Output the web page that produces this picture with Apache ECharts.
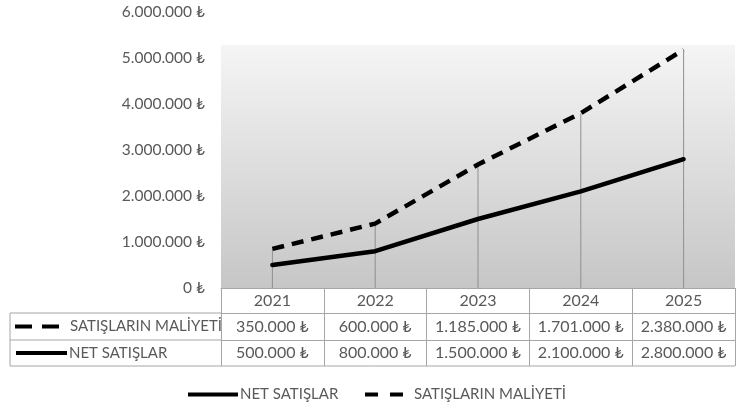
<!DOCTYPE html>
<html>
<head>
<meta charset="utf-8">
<script src="https://cdn.jsdelivr.net/npm/echarts@6/dist/echarts.min.js"></script>
<style>
html,body{margin:0;padding:0;background:#fff;}
#c{width:745px;height:403px;}
</style>
</head>
<body>
<div id="c"></div>
<script>
const years = ['2021', '2022', '2023', '2024', '2025'];
const netSales = [500000, 800000, 1500000, 2100000, 2800000];
const costOfSales = [350000, 600000, 1185000, 1701000, 2380000];
const yTicks = [0, 1000000, 2000000, 3000000, 4000000, 5000000, 6000000];
const NET = 'NET SATIŞLAR';
const COST = 'SATIŞLARIN MALİYETİ';

const FONT = 'Lato, "DejaVu Sans", sans-serif';
const TXT = '#595959';
const BORDER = '#a6a6a6';

function fmt(v) {
  return String(v).replace(/\B(?=(\d{3})+(?!\d))/g, '.') + ' ₺';
}
const totals = netSales.map((v, i) => v + costOfSales[i]);

const chart = echarts.init(document.getElementById('c'), null, {renderer: 'canvas'});

function tableAxis(offset, tickLen, fmtFn) {
  return {
    type: 'category',
    data: years,
    position: 'bottom',
    offset: offset,
    gridIndex: 0,
    axisLine: {show: true, lineStyle: {color: BORDER, width: 1}},
    axisTick: {show: true, interval: 0, alignWithLabel: false, length: tickLen, lineStyle: {color: BORDER, width: 1}},
    axisLabel: {
      interval: 0, margin: tickLen / 2, verticalAlign: 'middle',
      fontSize: 16, color: TXT, fontFamily: FONT, formatter: fmtFn
    },
    splitLine: {show: false}
  };
}

const option = {
  animation: false,
  textStyle: {fontFamily: FONT},
  grid: {
    left: 221, right: 10, top: 12, bottom: 115,
    show: true, borderWidth: 0,
    backgroundColor: new echarts.graphic.LinearGradient(0, 0, 0, 1, [
      {offset: 0, color: '#ffffff'},
      {offset: 0.118, color: '#ffffff'},
      {offset: 0.12, color: '#f5f5f5'},
      {offset: 1, color: '#c6c6c6'}
    ])
  },
  xAxis: [
    tableAxis(0, 25, (v) => v),
    tableAxis(25, 27, (v, i) => fmt(costOfSales[i])),
    tableAxis(52, 26, (v, i) => fmt(netSales[i]))
  ],
  yAxis: {
    type: 'value',
    min: yTicks[0], max: yTicks[yTicks.length - 1], interval: yTicks[1] - yTicks[0],
    axisLine: {show: false}, axisTick: {show: false}, splitLine: {show: false},
    axisLabel: {fontSize: 15.5, color: TXT, fontFamily: FONT, margin: 16, formatter: fmt}
  },
  legend: [
    {
      data: [NET], left: 183, top: 382, itemWidth: 50, itemHeight: 4,
      selectedMode: false, icon: 'path://M0,0L50,0L50,4L0,4Z',
      textStyle: {fontSize: 15, color: TXT, fontFamily: FONT, padding: [0, 0, 0, -3]}
    },
    {
      data: [COST], left: 360, top: 382, itemWidth: 38, itemHeight: 4,
      selectedMode: false, icon: 'path://M0,0L13,0L13,4L0,4Z M25,0L38,0L38,4L25,4Z',
      textStyle: {fontSize: 15, color: TXT, fontFamily: FONT, padding: [0, 0, 0, 6]}
    }
  ],
  series: [
    {
      name: 'drop', type: 'bar', data: totals, barWidth: 1, silent: true,
      itemStyle: {color: '#8f8f8f'}, z: 1
    },
    {
      name: NET, type: 'line', stack: 'total', data: netSales,
      showSymbol: false, symbol: 'none', z: 3,
      lineStyle: {color: '#000', width: 4.5, cap: 'round'},
      itemStyle: {color: '#000'}
    },
    {
      name: COST, type: 'line', stack: 'total', data: costOfSales,
      showSymbol: false, symbol: 'none', z: 3,
      lineStyle: {color: '#000', width: 4.5, type: [12, 8], cap: 'butt'},
      itemStyle: {color: '#000'}
    }
  ],
  graphic: [
    {type: 'line', shape: {x1: 10, y1: 313, x2: 221, y2: 313}, style: {stroke: BORDER, lineWidth: 1}},
    {type: 'line', shape: {x1: 10, y1: 340, x2: 221, y2: 340}, style: {stroke: BORDER, lineWidth: 1}},
    {type: 'line', shape: {x1: 10, y1: 366, x2: 735, y2: 366}, style: {stroke: BORDER, lineWidth: 1}},
    {type: 'line', shape: {x1: 10, y1: 313, x2: 10, y2: 366}, style: {stroke: BORDER, lineWidth: 1}},
    {type: 'line', shape: {x1: 15, y1: 326.5, x2: 60, y2: 326.5}, style: {stroke: '#000', lineWidth: 4, lineDash: [17, 10]}},
    {type: 'text', style: {x: 70, y: 326.5, text: COST, fill: TXT, font: '15px ' + FONT, textVerticalAlign: 'middle'}},
    {type: 'line', shape: {x1: 16, y1: 353, x2: 67, y2: 353}, style: {stroke: '#000', lineWidth: 4}},
    {type: 'text', style: {x: 69, y: 353, text: NET, fill: TXT, font: '15px ' + FONT, textVerticalAlign: 'middle'}}
  ]
};
chart.setOption(option);
</script>
</body>
</html>
